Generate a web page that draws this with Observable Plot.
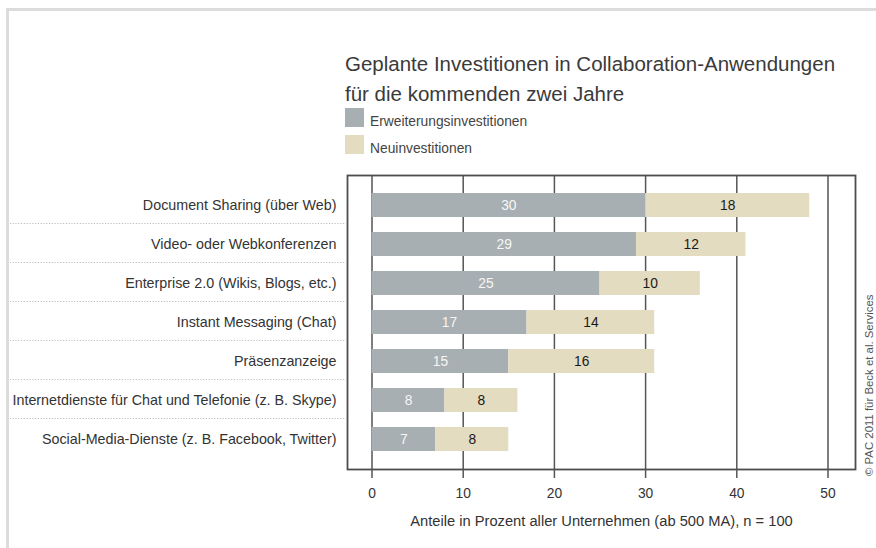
<!DOCTYPE html>
<html>
<head>
<meta charset="utf-8">
<script src="https://cdn.jsdelivr.net/npm/d3@7"></script>
<script src="https://cdn.jsdelivr.net/npm/@observablehq/plot@0.6"></script>
<style>
  html, body { margin: 0; padding: 0; background: #fff; }
  #wrap { position: relative; width: 876px; height: 548px; overflow: hidden; font-family: "Liberation Sans", Arial, sans-serif; color: #333; }
  #wrap svg { position: absolute; left: 0; top: 0; }
  .abs { position: absolute; white-space: nowrap; }
  #borderLeft { left: 6px; top: 8px; width: 2.5px; height: 540px; background: #dcdcdc; }
  #borderTop { left: 6px; top: 8px; width: 870px; height: 2.5px; background: #dcdcdc; }
  #title { left: 345px; top: 49px; font-size: 20.5px; line-height: 30px; color: #3a3a3a; }
  .sw { width: 19px; height: 19px; }
  .lt { font-size: 13.8px; color: #444; }
  #credit { left: 864px; top: 476px; font-size: 11.4px; line-height: 11px; color: #555; transform-origin: 0 0; transform: rotate(-90deg); }
</style>
</head>
<body>
<div id="wrap">
  <div class="abs" id="borderTop"></div>
  <div class="abs" id="borderLeft"></div>
</div>
<script>
const categories = [
  "Document Sharing (über Web)",
  "Video- oder Webkonferenzen",
  "Enterprise 2.0 (Wikis, Blogs, etc.)",
  "Instant Messaging (Chat)",
  "Präsenzanzeige",
  "Internetdienste für Chat und Telefonie (z. B. Skype)",
  "Social-Media-Dienste (z. B. Facebook, Twitter)"
];
// bar lengths
const erweiterung = [30, 29, 25, 17, 15, 8, 7];
const neu = [18, 12, 11, 14, 16, 8, 8];
// value labels as printed in the picture
const erweiterungLabels = ["30", "29", "25", "17", "15", "8", "7"];
const neuLabels = ["18", "12", "10", "14", "16", "8", "8"];
const seriesNames = ["Erweiterungsinvestitionen", "Neuinvestitionen"];
const seriesColors = ["#a8afb2", "#e4dcc1"];
const xTicks = [0, 10, 20, 30, 40, 50];
const titleLines = ["Geplante Investitionen in Collaboration-Anwendungen", "für die kommenden zwei Jahre"];
const xLabel = "Anteile in Prozent aller Unternehmen (ab 500 MA), n = 100";
const credit = "© PAC 2011 für Beck et al. Services";

const tidy = categories.flatMap((c, i) => [
  {cat: c, series: seriesNames[0], value: erweiterung[i]},
  {cat: c, series: seriesNames[1], value: neu[i]}
]);
const rows = categories.map((c, i) => ({cat: c, erw: erweiterung[i], neu: neu[i], erwLabel: erweiterungLabels[i], neuLabel: neuLabels[i]}));

const chart = Plot.plot({
  width: 876,
  height: 548,
  marginLeft: 347,
  marginRight: 21,
  marginTop: 175,
  marginBottom: 79,
  style: {fontFamily: "'Liberation Sans', Arial, sans-serif", fontSize: "14px", color: "#333", background: "transparent"},
  x: {domain: [0, 50], range: [371.5, 827.5]},
  y: {domain: categories, padding: 0.375},
  color: {domain: seriesNames, range: seriesColors},
  marks: [
    Plot.gridX(xTicks, {stroke: "#555", strokeOpacity: 1, strokeWidth: 1.5}),
    Plot.barX(tidy, {y: "cat", x: "value", fill: "series"}),
    Plot.text(rows, {x: d => d.erw / 2, y: "cat", text: "erwLabel", fill: "#f6f6f6", fontSize: 13.8}),
    Plot.text(rows, {x: d => d.erw + d.neu / 2, y: "cat", text: "neuLabel", fill: "#1a1a1a", fontSize: 13.8}),
    Plot.frame({stroke: "#4d4d4d", strokeWidth: 1.8}),
    Plot.axisX(xTicks, {tickSize: 9, tickPadding: 10, stroke: "#555", strokeWidth: 1.5, fontSize: 13.8, fill: "#333",
      label: null}),
    Plot.axisX({ticks: [], tickSize: 0, label: xLabel, labelAnchor: "center", labelArrow: "none", labelOffset: 56, fontSize: 14.7, fill: "#333"}),
    Plot.axisY({tickSize: 0, tickPadding: 11, fontSize: 14.3, fill: "#333", label: null}),
    Plot.axisY(categories.slice(0, -1), {tickSize: 337, dy: 18, tickFormat: () => "", label: null,
      stroke: "#bdbdbd", strokeDasharray: "1.2,1.6", strokeWidth: 1})
  ]
});

const wrap = document.getElementById("wrap");
wrap.appendChild(chart);

function addDiv(cls, id, css, text) {
  const d = document.createElement("div");
  d.className = cls;
  if (id) d.id = id;
  Object.assign(d.style, css);
  if (text != null) d.textContent = text;
  wrap.appendChild(d);
  return d;
}
const t = addDiv("abs", "title", {});
titleLines.forEach((line) => {
  const s = document.createElement("div");
  s.textContent = line;
  t.appendChild(s);
});
// legend
const legendTops = [108, 135];
seriesNames.forEach((name, i) => {
  addDiv("abs sw", null, {left: "345px", top: legendTops[i] + "px", background: seriesColors[i]});
  addDiv("abs lt", null, {left: "370px", top: (legendTops[i] + 6) + "px"}, name);
});
addDiv("abs", "credit", {}, credit);
</script>
</body>
</html>
